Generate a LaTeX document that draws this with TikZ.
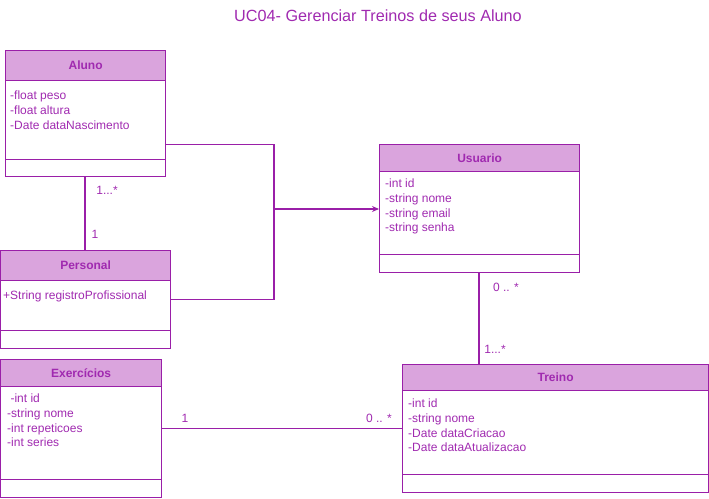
\documentclass[tikz,border=0pt]{standalone}
\usepackage{fontspec}
\setmainfont{Liberation Sans}
\usetikzlibrary{arrows.meta,calc}
\definecolor{umlstroke}{HTML}{9A1FA8}
\definecolor{umlfill}{HTML}{DAA4DD}
\definecolor{umltext}{HTML}{A02AB0}
\tikzset{
  classbox/.style={draw=umlstroke, line width=1.2pt, rectangle, anchor=north west, inner sep=0pt},
  headbox/.style={draw=umlstroke, fill=umlfill, line width=1.2pt, rectangle, anchor=north west, inner sep=0pt, text=umltext, font=\fontsize{12}{14}\selectfont\bfseries},
  attrs/.style={anchor=north west, inner sep=0pt, text=umltext, align=left, font=\fontsize{12}{14.6}\selectfont},
  conn/.style={draw=umlstroke, line width=1.2pt},
  mult/.style={text=umltext, inner sep=0pt, font=\fontsize{12}{14}\selectfont}
}
\begin{document}
\begin{tikzpicture}[x=1pt,y=-1pt]
\useasboundingbox (0,0) rectangle (709,498);
\node[text=umltext, font=\fontsize{16.2}{19}\selectfont] (title) at (378,16) {UC04- Gerenciar Treinos de seus Aluno};

% Aluno
\node[classbox, minimum width=160, minimum height=126] (aluno) at (5,50) {};
\node[headbox, minimum width=160, minimum height=30] (alunoh) at (5,50) {Aluno};
\node[attrs] (alunoa) at (10,91) {-float peso\\-float altura\\-Date dataNascimento};
\draw[conn] ($(aluno.south west)+(0,-18)$) -- ($(aluno.south east)+(0,-18)$);

% Personal
\node[classbox, minimum width=170, minimum height=98] (personal) at (0,250) {};
\node[headbox, minimum width=170, minimum height=30] (personalh) at (0,250) {Personal};
\node[attrs] (personala) at (3,291) {+String registroProfissional};
\draw[conn] ($(personal.south west)+(0,-19)$) -- ($(personal.south east)+(0,-19)$);

% Usuario
\node[classbox, minimum width=200, minimum height=128] (usuario) at (379,144) {};
\node[headbox, minimum width=200, minimum height=27] (usuarioh) at (379,144) {Usuario};
\node[attrs] (usuarioa) at (385,179) {-int id\\-string nome\\-string email\\-string senha};
\draw[conn] ($(usuario.south west)+(0,-19)$) -- ($(usuario.south east)+(0,-19)$);

% Exercicios
\node[classbox, minimum width=161, minimum height=138] (exerc) at (0,359) {};
\node[headbox, minimum width=161, minimum height=27] (exerch) at (0,359) {Exercícios};
\node[attrs] (exerca) at (7,394) {\ -int id\\-string nome\\-int repeticoes\\-int series};
\draw[conn] ($(exerc.south west)+(0,-19)$) -- ($(exerc.south east)+(0,-19)$);

% Treino
\node[classbox, minimum width=306, minimum height=128] (treino) at (402,364) {};
\node[headbox, minimum width=306, minimum height=26] (treinoh) at (402,364) {Treino};
\node[attrs] (treinoa) at (408,399) {-int id\\-string nome\\-Date dataCriacao\\-Date dataAtualizacao};
\draw[conn] ($(treino.south west)+(0,-19)$) -- ($(treino.south east)+(0,-19)$);

% connectors
\coordinate (join) at (274,209);
\draw[conn] ([yshift=-31pt]aluno.east) -| (join);
\draw[conn] (personal.east) -| (join);
\draw[conn, -{Stealth[length=7pt,width=6pt]}] (join) -- (join -| usuario.west);

\draw[conn] (aluno.south -| 85,0) -- (personal.north -| 85,0);
\node[mult] (m1) at (107,190) {1...*};
\node[mult] (m2) at (95,234) {1};

\draw[conn] (usuario.south -| 479,0) -- (treino.north -| 479,0);
\node[mult] (m3) at (506,287) {0 .. *};
\node[mult] (m4) at (495,349) {1...*};

\draw[conn] (exerc.east) -- (exerc.east -| treino.west);
\node[mult] (m5) at (185,418) {1};
\node[mult] (m6) at (379,418) {0 .. *};
\end{tikzpicture}
\end{document}
